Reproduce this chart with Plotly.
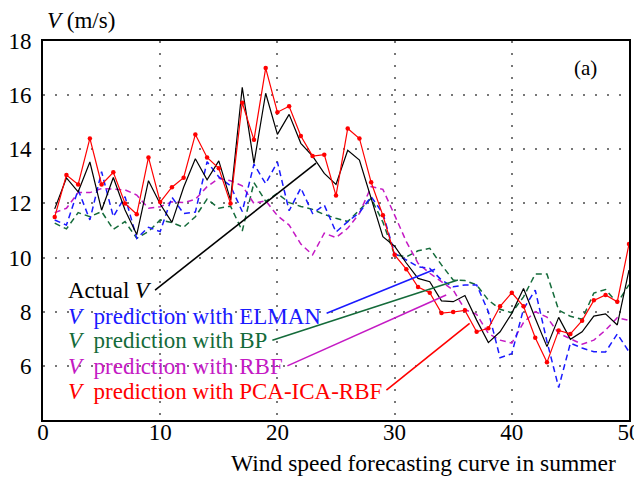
import plotly.graph_objects as go

x_index = list(range(1, 51))

actual_v = [11.8, 12.94, 12.43, 13.53, 11.75, 12.96, 11.76, 10.85, 12.84, 11.98,
            11.3, 12.6, 13.65, 12.87, 13.57, 12.13, 16.29, 13.48, 16.07, 14.55,
            15.29, 14.22, 13.75, 13.11, 12.7, 13.96, 13.6, 12.19, 10.77, 10.42,
            9.8, 9.23, 9.11, 8.4, 8.37, 8.6, 7.69, 6.86, 7.26, 7.94,
            8.86, 7.76, 6.71, 7.79, 6.98, 7.26, 7.84, 7.92, 7.51, 9.54]

elman_v = [11.39, 11.2, 12.5, 11.39, 13.17, 11.51, 12.25, 10.71, 11.12, 10.96,
           12.23, 11.63, 11.68, 13.54, 12.98, 12.65, 11.7, 13.45, 12.73, 13.53,
           11.73, 12.57, 11.63, 11.94, 10.94, 11.33, 11.66, 12.25, 11.63, 10.15,
           9.91, 9.66, 9.6, 9.17, 8.92, 8.99, 8.99, 8.0, 6.3, 6.45,
           8.1, 8.8, 6.9, 5.2, 6.84, 6.66, 6.52, 6.51, 7.18, 6.52]

bp_v = [11.27, 11.06, 11.66, 11.51, 11.7, 11.04, 11.33, 10.71, 10.96, 11.39,
        11.29, 11.12, 11.51, 12.16, 11.82, 11.9, 10.98, 12.77, 12.08, 12.37,
        12.03, 11.89, 11.78, 11.59, 11.45, 11.33, 11.76, 12.19, 11.31, 10.1,
        10.03, 10.25, 10.34, 9.73, 9.17, 9.15, 8.99, 8.43, 8.09, 7.96,
        8.55, 9.39, 9.39, 8.06, 7.83, 7.72, 8.69, 8.82, 8.32, 9.0]

rbf_v = [11.66, 11.82, 12.4, 12.4, 12.55, 12.52, 12.5, 12.31, 11.82, 11.88,
         12.06, 12.03, 12.15, 12.62, 12.93, 12.84, 12.65, 12.0, 12.1, 11.55,
         11.2, 10.5, 10.1, 10.9, 10.74, 11.08, 11.63, 12.62, 12.52, 11.57,
         10.59, 9.79, 9.42, 9.11, 8.8, 8.08, 7.9, 7.2, 6.95, 6.84,
         7.6, 8.0, 7.8, 7.2, 7.0, 6.8, 6.95, 7.32, 7.78, 7.68]

pca_ica_rbf_v = [11.5, 13.05, 12.7, 14.4, 12.7, 13.15, 12.0, 11.6, 13.7, 12.05,
                 12.6, 12.95, 14.55, 13.7, 13.3, 12.0, 15.72, 14.35, 17.0, 15.37,
                 15.59, 14.49, 13.75, 13.8, 12.29, 14.77, 14.4, 12.78, 11.56, 10.1,
                 9.57, 8.91, 8.7, 7.95, 7.99, 8.05, 7.26, 7.39, 8.2, 8.7,
                 8.2, 7.04, 6.13, 7.31, 7.18, 7.67, 8.42, 8.62, 8.37, 10.5]

x_ticks = [0, 10, 20, 30, 40, 50]
y_ticks = [6, 8, 10, 12, 14, 16, 18]

legend_labels = ["Actual <i>V</i>",
                 "<i>V</i>  prediction with ELMAN",
                 "<i>V</i>  prediction with BP",
                 "<i>V</i>  prediction with RBF",
                 "<i>V</i>  prediction with PCA-ICA-RBF"]
# leader lines: (label end x, y) -> (curve x, y)
leaders = [(9.56, 8.8, 23.3, 13.49),
           (24.2, 7.94, 33.45, 9.57),
           (19.57, 6.95, 35.4, 9.17),
           (20.85, 6.0, 34.4, 8.62),
           (29.3, 5.1, 36.4, 7.57)]
label_y = [8.77, 7.84, 6.92, 5.96, 5.07]

BLACK = "#000000"
BLUE = "#1a1aff"
GREEN = "#146b3a"
MAGENTA = "#c41ac4"
RED = "#ff0000"
colors = [BLACK, BLUE, GREEN, MAGENTA, RED]
FONT = "Liberation Serif, Times New Roman, serif"

fig = go.Figure()
fig.add_trace(go.Scatter(x=x_index, y=bp_v, mode="lines",
                         line=dict(color=GREEN, width=1.5, dash="6px,4px")))
fig.add_trace(go.Scatter(x=x_index, y=rbf_v, mode="lines",
                         line=dict(color=MAGENTA, width=1.5, dash="6px,4px")))
fig.add_trace(go.Scatter(x=x_index, y=elman_v, mode="lines",
                         line=dict(color=BLUE, width=1.5, dash="6px,4px")))
fig.add_trace(go.Scatter(x=x_index, y=actual_v, mode="lines",
                         line=dict(color=BLACK, width=1.2)))
fig.add_trace(go.Scatter(x=x_index, y=pca_ica_rbf_v, mode="lines+markers",
                         line=dict(color=RED, width=1.2),
                         marker=dict(color=RED, size=4.5)))

for (x0, y0, x1, y1), c in zip(leaders, colors):
    fig.add_shape(type="line", x0=x0, y0=y0, x1=x1, y1=y1, xref="x", yref="y",
                  line=dict(color=c, width=1.6))

for txt, yy, c in zip(legend_labels, label_y, colors):
    fig.add_annotation(x=1.95, y=yy, xref="x", yref="y", text=txt, showarrow=False,
                       xanchor="left", yanchor="middle",
                       font=dict(family=FONT, size=23, color=c))

fig.add_annotation(x=0.004, y=1.055, xref="paper", yref="paper",
                   text="<i>V</i> (m/s)", showarrow=False, xanchor="left",
                   yanchor="middle", font=dict(family=FONT, size=23, color="black"))
fig.add_annotation(x=0.925, y=0.93, xref="paper", yref="paper", text="(a)",
                   showarrow=False, xanchor="center", yanchor="middle",
                   font=dict(family=FONT, size=21, color="black"))
fig.add_annotation(x=0.65, y=-0.113, xref="paper", yref="paper",
                   text="Wind speed forecasting curve in summer", showarrow=False,
                   xanchor="center", yanchor="middle",
                   font=dict(family=FONT, size=23.5, color="black"))

axis_common = dict(showline=True, linecolor="black", linewidth=2, mirror=True,
                   showgrid=True, gridcolor="#777777", gridwidth=1.6,
                   griddash="2px,10px", zeroline=False, ticks="",
                   automargin=False,
                   tickfont=dict(family=FONT, size=23, color="black"))
fig.update_xaxes(range=[0, 50], tickvals=x_ticks, ticklabelstandoff=-10, **axis_common)
fig.update_yaxes(range=[4, 18], tickvals=y_ticks, ticklabelstandoff=5, **axis_common)

# page body has an 8px margin, so the figure is offset by 8px right and down
fig.update_layout(width=634, height=469, showlegend=False,
                  margin=dict(l=35, r=13, t=33, b=57),
                  plot_bgcolor="white", paper_bgcolor="white",
                  font=dict(family=FONT, color="black"))

fig.write_html("out.html")
